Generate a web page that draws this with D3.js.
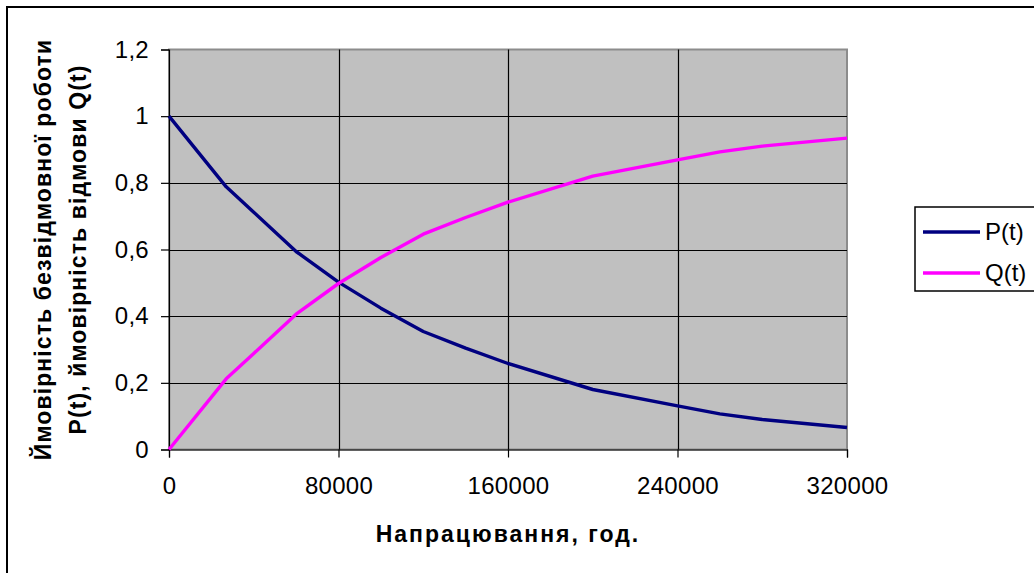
<!DOCTYPE html>
<html>
<head>
<meta charset="utf-8">
<script src="https://cdn.jsdelivr.net/npm/d3@7"></script>
<style>
  html, body { margin: 0; padding: 0; background: #fff; }
  svg { display: block; font-family: "Liberation Sans", Arial, sans-serif; }
</style>
</head>
<body>
<svg id="chart" width="1034" height="573"></svg>
<script>
// Operating time, hours
const hours = [0, 27000, 40000, 60000, 80000, 100000, 120000, 140000, 160000, 200000, 240000, 260000, 280000, 320000];
// Probability of failure-free operation P(t)
const pValues = [1, 0.788, 0.712, 0.594, 0.502, 0.424, 0.354, 0.304, 0.258, 0.180, 0.131, 0.107, 0.090, 0.066];
// Probability of failure Q(t)
const qValues = [0, 0.212, 0.288, 0.406, 0.498, 0.576, 0.646, 0.696, 0.742, 0.820, 0.869, 0.893, 0.910, 0.934];

const xTicks = [0, 80000, 160000, 240000, 320000];
const yTicks = [0, 0.2, 0.4, 0.6, 0.8, 1, 1.2];
const seriesNames = ["P(t)", "Q(t)"];
const seriesColors = ["#000080", "#FF00FF"];

const svg = d3.select("#chart");
const plot = { left: 169, top: 49.5, right: 847, bottom: 449.5 };

const x = d3.scaleLinear().domain([0, 320000]).range([plot.left, plot.right]);
const y = d3.scaleLinear().domain([0, 1.2]).range([plot.bottom, plot.top]);
const fmtY = v => d3.format("")(+v.toFixed(1)).replace(".", ",");

// outer chart frame
svg.append("rect")
  .attr("x", 7).attr("y", 7)
  .attr("width", 1040).attr("height", 580)
  .attr("fill", "#fff").attr("stroke", "#000").attr("stroke-width", 2);

// plot area
svg.append("rect")
  .attr("x", plot.left).attr("y", plot.top)
  .attr("width", plot.right - plot.left).attr("height", plot.bottom - plot.top)
  .attr("fill", "#C0C0C0").attr("stroke", "#8C8C8C").attr("stroke-width", 2);

// gridlines
const grid = svg.append("g").attr("stroke", "#000").attr("stroke-width", 1.2);
grid.selectAll("line.h").data(yTicks.filter(v => v > 0 && v < 1.2)).join("line")
  .attr("x1", plot.left).attr("x2", plot.right)
  .attr("y1", d => Math.round(y(d)) + 0.5).attr("y2", d => Math.round(y(d)) + 0.5);
grid.selectAll("line.v").data(xTicks.filter(v => v > 0 && v < 320000)).join("line")
  .attr("y1", plot.top).attr("y2", plot.bottom)
  .attr("x1", d => Math.round(x(d)) + 0.5).attr("x2", d => Math.round(x(d)) + 0.5);

// axes
const yAxis = d3.axisLeft(y).tickValues(yTicks).tickSize(8).tickPadding(12).tickFormat(fmtY);
const xAxis = d3.axisBottom(x).tickValues(xTicks).tickSize(8).tickPadding(19).tickFormat(d3.format("d"));

const gy = svg.append("g").attr("transform", `translate(${plot.left},0)`).call(yAxis);
const gx = svg.append("g").attr("transform", `translate(0,${plot.bottom})`).call(xAxis);
[gx, gy].forEach(g => {
  g.select(".domain").attr("stroke", "#000").attr("stroke-width", 1.2);
  g.selectAll(".tick line").attr("stroke", "#000").attr("stroke-width", 1.2);
  g.selectAll(".tick text").attr("fill", "#000")
    .style("font-family", "'Liberation Sans', Arial, sans-serif").style("font-size", "24px")
    .style("letter-spacing", "0.3px");
});

// curves
const series = [pValues, qValues];
const line = d3.line().x((d, i) => x(hours[i])).y(d => y(d));
svg.append("g").selectAll("path").data(series).join("path")
  .attr("d", d => line(d))
  .attr("fill", "none")
  .attr("stroke", (d, i) => seriesColors[i])
  .attr("stroke-width", 3.4)
  .attr("stroke-linejoin", "round");

// axis titles
svg.append("text")
  .attr("x", (plot.left + plot.right) / 2).attr("y", 542)
  .attr("text-anchor", "middle")
  .style("font-size", "23px").style("font-weight", "bold")
  .style("letter-spacing", "2px")
  .text("Напрацювання, год.");

const yTitle = svg.append("text")
  .attr("transform", `translate(0,${(plot.top + plot.bottom) / 2}) rotate(-90)`)
  .attr("text-anchor", "middle")
  .style("font-size", "23px").style("font-weight", "bold")
  .style("letter-spacing", "1.1px");
yTitle.append("tspan").attr("x", 0).attr("y", 51).text("Ймовірність безвідмовної роботи");
yTitle.append("tspan").attr("x", 0).attr("y", 86).text("P(t), ймовірність відмови Q(t)");

// legend
const legend = svg.append("g");
legend.append("rect")
  .attr("x", 915).attr("y", 207).attr("width", 140).attr("height", 84)
  .attr("fill", "#fff").attr("stroke", "#000").attr("stroke-width", 1.5);
const items = legend.selectAll("g.item").data(seriesNames).join("g")
  .attr("transform", (d, i) => `translate(0,${i === 0 ? 232 : 273})`);
items.append("line")
  .attr("x1", 923).attr("x2", 980).attr("y1", 0).attr("y2", 0)
  .attr("stroke", (d, i) => seriesColors[i]).attr("stroke-width", 3.4);
items.append("text")
  .attr("x", 985).attr("y", 0).attr("dy", "0.35em")
  .style("font-size", "24px")
  .text(d => d);
</script>
</body>
</html>
